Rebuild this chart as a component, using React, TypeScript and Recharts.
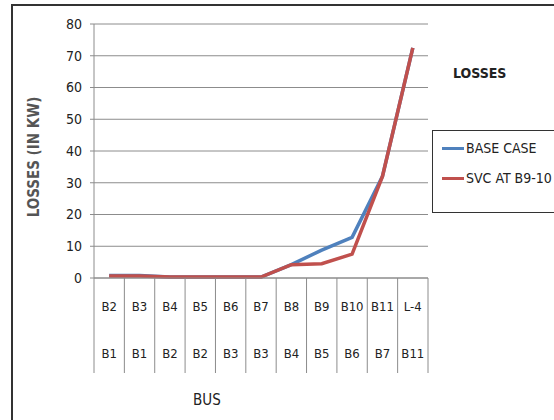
import { LineChart, Line, XAxis, YAxis, CartesianGrid } from 'recharts'

const BUS_TO = ['B2', 'B3', 'B4', 'B5', 'B6', 'B7', 'B8', 'B9', 'B10', 'B11', 'L-4']
const BUS_FROM = ['B1', 'B1', 'B2', 'B2', 'B3', 'B3', 'B4', 'B5', 'B6', 'B7', 'B11']
const BASE_CASE = [0.8, 0.8, 0.3, 0.3, 0.3, 0.3, 4.2, 8.8, 12.8, 32, 72.5]
const SVC_B9_10 = [0.6, 0.6, 0.3, 0.3, 0.3, 0.3, 4.2, 4.5, 7.5, 32, 72.5]
const Y_TICKS = [0, 10, 20, 30, 40, 50, 60, 70, 80]
const SERIES = [
  { key: 'base', label: 'BASE CASE', color: '#4f81bd' },
  { key: 'svc', label: 'SVC AT B9-10', color: '#c0504d' },
]

const FONT = "'DejaVu Sans Condensed', 'Open Sans', sans-serif"
const W = 554
const H = 420
const PLOT_LEFT = 94
const PLOT_RIGHT = 428
const BAND = (PLOT_RIGHT - PLOT_LEFT) / BUS_TO.length

const data = BUS_TO.map((to, i) => ({
  key: `${to}|${BUS_FROM[i]}`,
  to,
  from: BUS_FROM[i],
  base: BASE_CASE[i],
  svc: SVC_B9_10[i],
}))

// two-row category label with the table-like dividers
function BusTick({ x, y, index }: any) {
  const d = data[index]
  const left = x - BAND / 2
  const right = x + BAND / 2
  return (
    <g>
      <line x1={left} y1={y - 8} x2={left} y2={y + 87} stroke="#8c8c8c" />
      {index === data.length - 1 && (
        <line x1={right} y1={y - 8} x2={right} y2={y + 87} stroke="#8c8c8c" />
      )}
      <text x={x} y={y + 25} textAnchor="middle" fontSize={13} fill="#222" fontFamily={FONT}>
        {d.to}
      </text>
      <text x={x} y={y + 72} textAnchor="middle" fontSize={13} fill="#222" fontFamily={FONT}>
        {d.from}
      </text>
    </g>
  )
}

export default function App() {
  return (
    <div style={{ position: 'absolute', left: 0, top: 0, width: W, height: H, background: '#fff', overflow: 'hidden' }}>
      <div
        style={{
          position: 'absolute',
          left: 11,
          top: 4,
          width: W,
          height: H,
          borderLeft: '2px solid #333',
          borderTop: '2px solid #333',
        }}
      />
      <LineChart
        width={W}
        height={H}
        data={data}
        margin={{ top: 24, right: W - PLOT_RIGHT, left: 0, bottom: 0 }}
        style={{ position: 'absolute', left: 0, top: 0 }}
      >
        <CartesianGrid vertical={false} stroke="#8c8c8c" />
        <XAxis
          dataKey="key"
          scale="band"
          height={142}
          interval={0}
          tickLine={false}
          axisLine={{ stroke: '#8c8c8c' }}
          tick={<BusTick />}
        />
        <YAxis
          width={PLOT_LEFT}
          domain={[0, 80]}
          ticks={Y_TICKS}
          interval={0}
          tickSize={4}
          tickMargin={8}
          tickLine={{ stroke: '#8c8c8c' }}
          axisLine={{ stroke: '#8c8c8c' }}
          tick={{ fill: '#222', fontSize: 14, fontFamily: FONT }}
        />
        {SERIES.map(s => (
          <Line
            key={s.key}
            dataKey={s.key}
            name={s.label}
            stroke={s.color}
            strokeWidth={3.5}
            dot={false}
            isAnimationActive={false}
          />
        ))}
      </LineChart>
      <div
        style={{
          position: 'absolute',
          left: 432,
          top: 130,
          width: 130,
          height: 83,
          border: '1px solid #333',
          boxSizing: 'border-box',
          fontFamily: FONT,
          fontSize: 14,
          color: '#222',
          paddingTop: 2,
        }}
      >
        {SERIES.map(s => (
          <div key={s.key} style={{ display: 'flex', alignItems: 'center', height: 30, whiteSpace: 'nowrap' }}>
            <span style={{ display: 'inline-block', width: 22, height: 3, background: s.color, marginLeft: 9, marginRight: 2 }} />
            <span>{s.label}</span>
          </div>
        ))}
      </div>
      <div style={{ position: 'absolute', left: 453, top: 65, fontFamily: FONT, fontWeight: 'bold', fontSize: 14, color: '#222' }}>
        LOSSES
      </div>
      <div style={{ position: 'absolute', left: 193, top: 391, fontFamily: FONT, fontSize: 15, color: '#222' }}>
        BUS
      </div>
      <div
        style={{
          position: 'absolute',
          left: 34,
          top: 157,
          transform: 'translate(-50%, -50%) rotate(-90deg)',
          whiteSpace: 'nowrap',
          fontFamily: FONT,
          fontWeight: 'bold',
          fontSize: 15,
          color: '#555',
        }}
      >
        LOSSES (IN KW)
      </div>
    </div>
  )
}
